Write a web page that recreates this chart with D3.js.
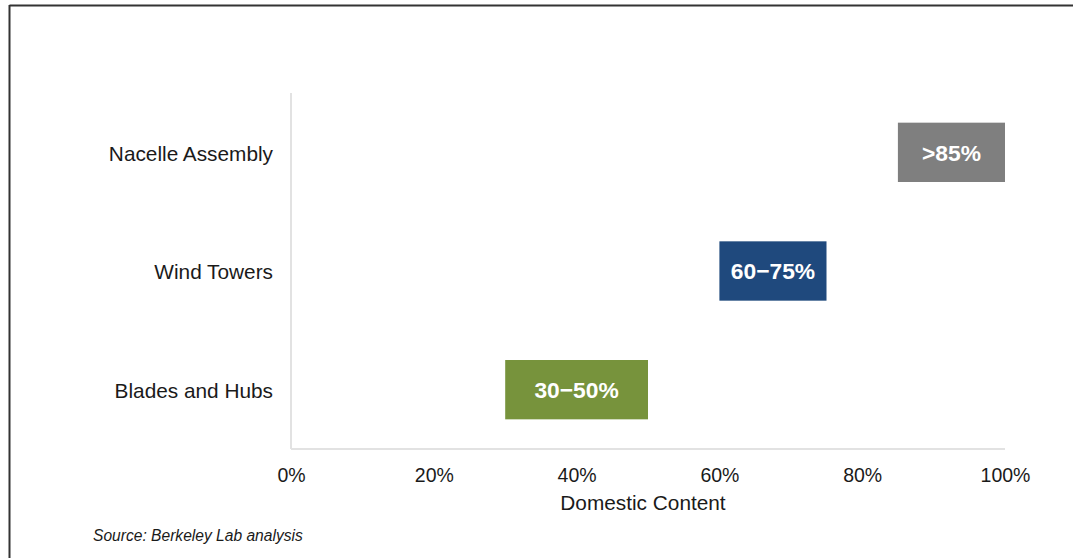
<!DOCTYPE html>
<html>
<head>
<meta charset="utf-8">
<script src="https://d3js.org/d3.v7.min.js"></script>
<style>
    body { margin: 0; background: #fff; }
    svg { display: block; font-family: "Liberation Sans", Arial, sans-serif; }
</style>
</head>
<body>
<div id="chart"></div>
<script>
    // data
    var categories = ["Nacelle Assembly", "Wind Towers", "Blades and Hubs"];
    var rangeStart = [85, 60, 30];
    var rangeEnd = [100, 75, 50];
    var barLabels = [">85%", "60\u221275%", "30\u221250%"];
    var barColors = ["#7f7f7f", "#1f497d", "#77933c"];
    var xTicks = [0, 20, 40, 60, 80, 100];

    var W = 1073, H = 558;
    var margin = {top: 93, left: 291, right: 68, bottom: 109};
    var width = W - margin.left - margin.right,
        height = H - margin.top - margin.bottom;

    var svg = d3.select("#chart").append("svg")
        .attr("width", W)
        .attr("height", H);

    // outer frame (top and left edges only visible)
    svg.append("line").attr("x1", 9.5).attr("x2", W).attr("y1", 5.5).attr("y2", 5.5)
        .attr("stroke", "#333").attr("stroke-width", 2);
    svg.append("line").attr("x1", 9.5).attr("x2", 9.5).attr("y1", 5).attr("y2", H)
        .attr("stroke", "#333").attr("stroke-width", 2);

    var g = svg.append("g")
        .attr("transform", "translate(" + margin.left + "," + margin.top + ")");

    var x = d3.scaleLinear().domain([0, 100]).range([0, width]);
    var y = d3.scaleBand().domain(categories).range([0, height])
        .paddingInner(0.5).paddingOuter(0.25);

    // axis lines
    g.append("line").attr("x1", 0).attr("x2", 0).attr("y1", 0).attr("y2", height)
        .attr("stroke", "#e2e2e2").attr("stroke-width", 2);
    g.append("line").attr("x1", 0).attr("x2", width).attr("y1", height).attr("y2", height)
        .attr("stroke", "#e2e2e2").attr("stroke-width", 2);

    // x tick labels
    var xAxis = g.append("g")
        .attr("transform", "translate(0," + height + ")")
        .call(d3.axisBottom(x).tickValues(xTicks).tickSize(0).tickPadding(19)
            .tickFormat(function (d) { return d + "%"; }));
    xAxis.select(".domain").remove();
    xAxis.selectAll("text")
        .style("font-size", "19.5px")
        .style("font-family", "Liberation Sans, Arial, sans-serif")
        .attr("fill", "#1a1a1a");

    // category labels
    var yAxis = g.append("g")
        .call(d3.axisLeft(y).tickSize(0).tickPadding(18));
    yAxis.select(".domain").remove();
    yAxis.selectAll("text")
        .attr("dy", "0.4em")
        .style("font-size", "20.8px")
        .style("font-family", "Liberation Sans, Arial, sans-serif")
        .attr("fill", "#1a1a1a");

    // bars
    var bars = g.selectAll("g.bar")
        .data(categories)
        .enter().append("g")
        .attr("class", "bar");

    bars.append("rect")
        .attr("x", function (d, i) { return x(rangeStart[i]); })
        .attr("y", function (d) { return y(d); })
        .attr("width", function (d, i) { return x(rangeEnd[i]) - x(rangeStart[i]); })
        .attr("height", y.bandwidth())
        .attr("fill", function (d, i) { return barColors[i]; });

    bars.append("text")
        .attr("x", function (d, i) { return (x(rangeStart[i]) + x(rangeEnd[i])) / 2; })
        .attr("y", function (d) { return y(d) + y.bandwidth() / 2; })
        .attr("dy", "0.36em")
        .attr("text-anchor", "middle")
        .attr("fill", "#fff")
        .style("font-weight", "bold")
        .style("font-size", "22.8px")
        .text(function (d, i) { return barLabels[i]; });

    // x axis title
    g.append("text")
        .attr("x", width / 2 - 5)
        .attr("y", height + 61)
        .attr("text-anchor", "middle")
        .attr("fill", "#1a1a1a")
        .style("font-size", "20.8px")
        .text("Domestic Content");

    // source note
    svg.append("text")
        .attr("x", 93)
        .attr("y", 541)
        .attr("fill", "#1a1a1a")
        .style("font-size", "15.6px")
        .style("font-style", "italic")
        .text("Source: Berkeley Lab analysis");
</script>
</body>
</html>
